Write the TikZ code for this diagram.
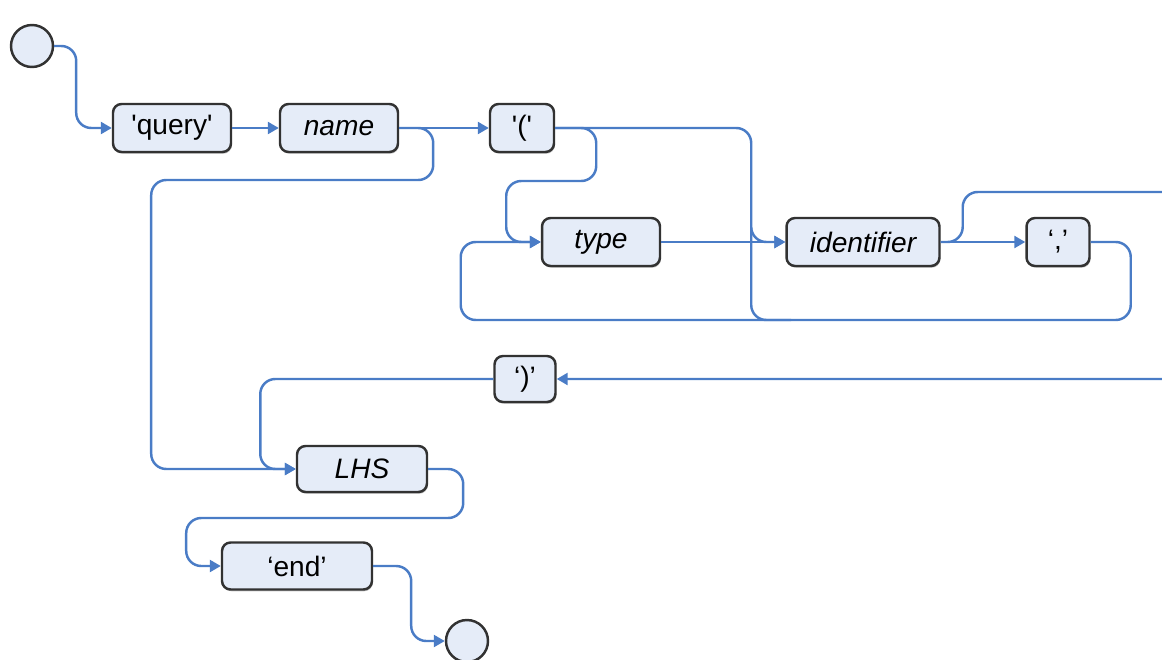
\documentclass[tikz,border=0pt]{standalone}
\usepackage{fontspec}
\setmainfont{Liberation Sans}
\usetikzlibrary{arrows.meta, positioning, shadows, calc}
\definecolor{railblue}{RGB}{74,124,198}
\definecolor{boxfill}{RGB}{229,236,248}
\definecolor{boxline}{RGB}{50,50,50}
\tikzset{
  box/.style   = {draw=boxline, line width=1.4pt, rounded corners=0.17cm, fill=boxfill,
                  minimum height=0.96cm, inner sep=2pt,
                  font=\fontsize{16}{19}\selectfont,
                  drop shadow={shadow xshift=0.5pt, shadow yshift=-1pt, opacity=0.45}},
  term/.style  = {circle, draw=boxline, line width=1.4pt, fill=boxfill, minimum size=0.84cm},
  rail/.style  = {draw=railblue, line width=1.4pt, rounded corners=0.3cm},
  arrow/.style = {rail, -{Triangle[length=0.22cm, width=0.24cm]}},
}

\begin{document}
\begin{tikzpicture}[x=0.02cm, y=-0.02cm]
  \clip (0,0) rectangle (1162,659);
  % terminals and boxes
  \node[term] (start) at (32,46) {};
  \node[term] (stop)  at (467,641) {};
  \node[box, minimum width=2.36cm] (query) at (172,128) {\textquotesingle query\textquotesingle};
  \node[box, minimum width=2.36cm] (name)  at (339,128) {\itshape name};
  \node[box, minimum width=1.28cm] (lpar)  at (522,128) {\textquotesingle(\textquotesingle};
  \node[box, minimum width=2.36cm] (type)  at (601,242) {\itshape type};
  \node[box, minimum width=3.06cm] (ident) at (863,242) {\itshape identifier};
  \node[box, minimum width=1.26cm] (comma) at (1058,242) {‘,’};
  \node[box, minimum width=1.22cm, minimum height=0.92cm] (rpar) at (525,379) {‘)’};
  \node[box, minimum width=2.6cm, minimum height=0.92cm] (lhs) at (362,469) {\itshape LHS};
  \node[box, minimum width=3cm, minimum height=0.94cm] (endkw) at (297,566) {‘end’};
  % rails
  \draw[arrow] (start.east) -- ++(22,0) |- (query.west);
  \draw[arrow] (query) -- (name);
  \draw[arrow] (name) -- (lpar);
  \draw[arrow] (name.east) -- ++(34,0) -- ++(0,52) -- ++(-282,0) |- (lhs.west);
  \draw[arrow] (lpar.east) -- ++(41,0) -- ++(0,53) -- ++(-90,0) |- (type.west);
  \draw[arrow] (lpar.east) -- ++(196,0) coordinate (split) |- (ident.west);
  \draw[arrow] (type) -- (ident);
  \draw[arrow] (ident) -- (comma);
  \draw[arrow] (ident.east) -- ++(22,0) -- ++(0,-50) -- ++(230,0) |- (rpar.east);
  \draw[arrow] (comma.east) -- ++(40,0) -- ++(0,78) -- ++(-670,0) |- (type.west);
  \draw[rail] ($(split |- ident.west)+(0,-14)$) -- ++(0,92) -- ++(40,0);
  \draw[arrow] (rpar.west) -- ++(-233,0) |- (lhs.west);
  \draw[arrow] (lhs.east) -- ++(35,0) -- ++(0,49) -- ++(-277,0) |- (endkw.west);
  \draw[arrow] (endkw.east) -- ++(38,0) |- (stop.west);
\end{tikzpicture}
\end{document}
